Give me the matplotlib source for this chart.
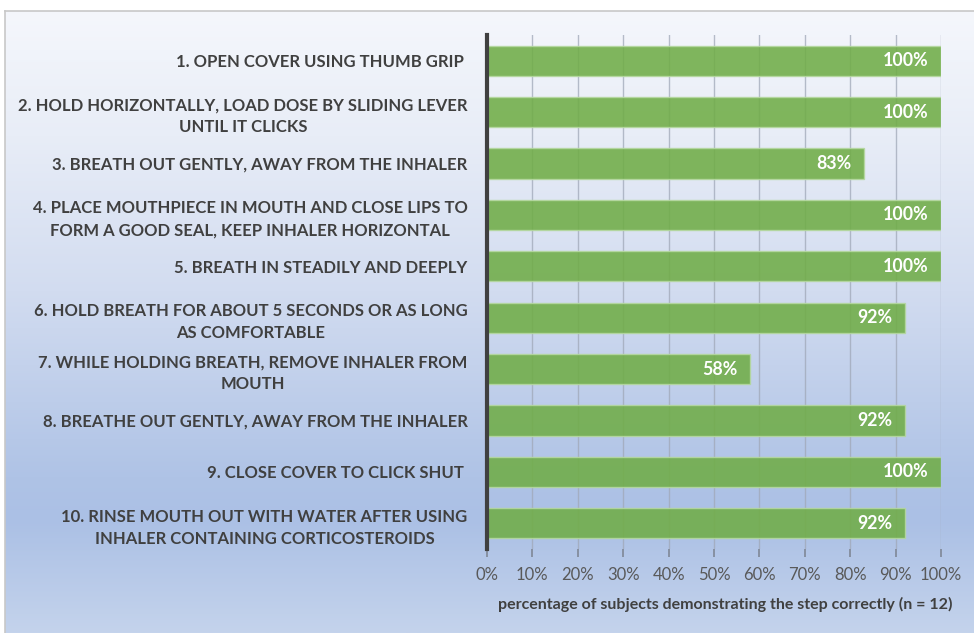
import numpy as np
import matplotlib.pyplot as plt
from matplotlib.colors import LinearSegmentedColormap

# Inhaler technique checklist results
steps = [
    "1. OPEN COVER USING THUMB GRIP ",
    "2. HOLD HORIZONTALLY, LOAD DOSE BY SLIDING LEVER\nUNTIL IT CLICKS",
    "3. BREATH OUT GENTLY, AWAY FROM THE INHALER",
    "4. PLACE MOUTHPIECE IN MOUTH AND CLOSE LIPS TO\nFORM A GOOD SEAL, KEEP INHALER HORIZONTAL",
    "5. BREATH IN STEADILY AND DEEPLY",
    "6. HOLD BREATH FOR ABOUT 5 SECONDS OR AS LONG\nAS COMFORTABLE",
    "7. WHILE HOLDING BREATH, REMOVE INHALER FROM\nMOUTH",
    "8. BREATHE OUT GENTLY, AWAY FROM THE INHALER",
    "9. CLOSE COVER TO CLICK SHUT ",
    "10. RINSE MOUTH OUT WITH WATER AFTER USING\nINHALER CONTAINING CORTICOSTEROIDS",
]
percent_correct = [100, 100, 83, 100, 100, 92, 58, 92, 100, 92]
x_ticks = [0, 10, 20, 30, 40, 50, 60, 70, 80, 90, 100]

plt.rcParams['font.family'] = ['Lato', 'DejaVu Sans']

fig = plt.figure(figsize=(9.74, 6.33), dpi=100)
fig.patch.set_facecolor('white')

# gradient panel behind everything
bg = fig.add_axes([5 / 974, 0, 1 - 5 / 974, 1 - 11 / 633], zorder=-10)
cmap = LinearSegmentedColormap.from_list('panel', [
    (0.00, '#f5f7fc'),
    (0.20, '#e8edf7'),
    (0.45, '#d2dcf0'),
    (0.75, '#afc3e6'),
    (0.82, '#abc0e5'),
    (1.00, '#c4d3ec'),
])
grad = np.linspace(0, 1, 256).reshape(-1, 1)
bg.imshow(grad, aspect='auto', cmap=cmap, extent=[0, 1, 1, 0])
bg.set_xlim(0, 1)
bg.set_ylim(1, 0)
bg.set_xticks([])
bg.set_yticks([])
for s in ['right', 'bottom']:
    bg.spines[s].set_visible(False)
for s in ['left', 'top']:
    bg.spines[s].set_color('#c8c8c8')
    bg.spines[s].set_linewidth(1.2)

ax = fig.add_axes([487 / 974, 1 - 549 / 633, (941 - 487) / 974, (549 - 35) / 633])
ax.patch.set_alpha(0)

y = np.arange(len(steps))
bars = ax.barh(y, percent_correct, height=0.585, color='#70ad47', alpha=0.88,
               edgecolor='#b5d8a0', linewidth=1.0, zorder=3)

for yi, v in zip(y, percent_correct):
    ax.text(v - 2.8, yi, f"{v}%", ha='right', va='center', color='white',
            fontsize=12.8, fontweight='bold', zorder=4)

ax.set_xlim(0, 100)
ax.set_ylim(len(steps) - 0.5, -0.5)
ax.set_xticks(x_ticks)
ax.set_xticklabels([f"{t}%" for t in x_ticks], fontsize=12, color='#595959')
ax.set_yticks(y)
ax.set_yticklabels(steps, fontsize=12.0, fontweight='bold', color='#404040',
                   multialignment='center', linespacing=1.45)
ax.tick_params(axis='y', length=0, pad=14)
ax.tick_params(axis='x', length=6, width=1.2, color='#7f8796', pad=7)

ax.grid(axis='x', color='#a0a8b8', linewidth=1.0, alpha=0.75, zorder=1)
ax.set_axisbelow(True)
for s in ['top', 'right', 'bottom']:
    ax.spines[s].set_visible(False)
ax.spines['left'].set_color('#404040')
ax.spines['left'].set_linewidth(3)
ax.spines['left'].set_zorder(5)

ax.set_xlabel("percentage of subjects demonstrating the step correctly (n = 12)",
              fontsize=11.5, fontweight='bold', color='#404040')
ax.xaxis.set_label_coords(0.524, -0.094)

fig.savefig('out.png', dpi=100)
